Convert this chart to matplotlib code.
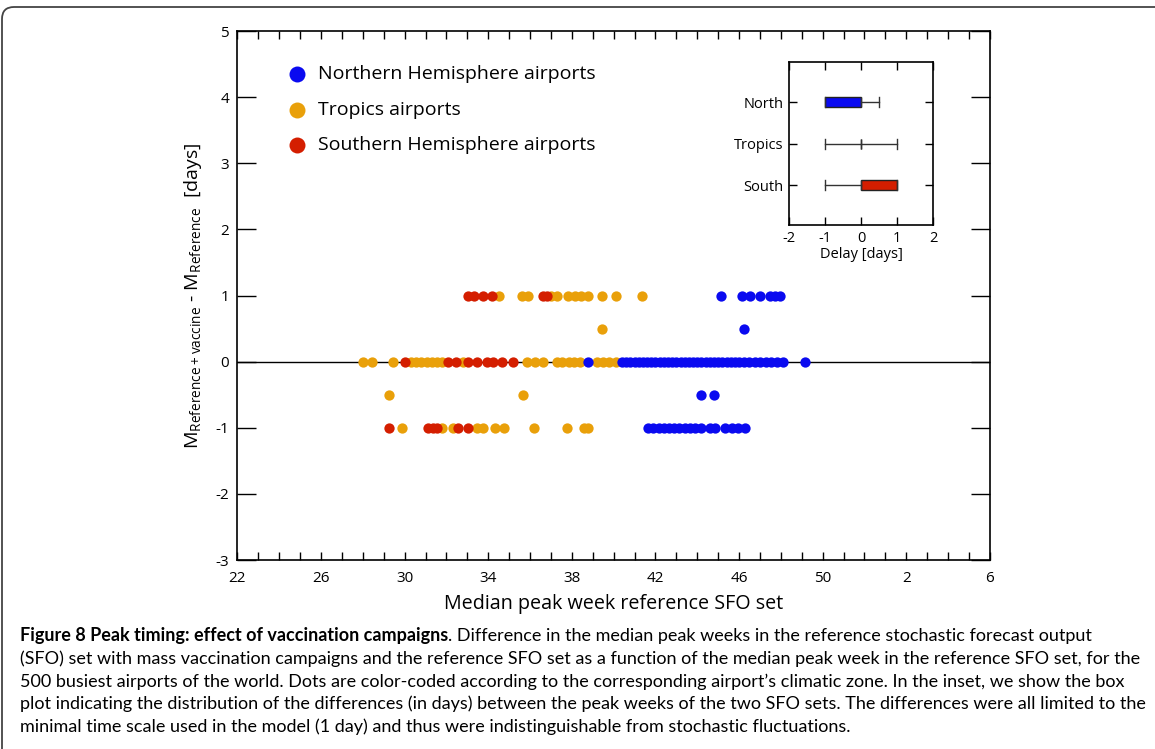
import matplotlib
matplotlib.use('Agg')
import matplotlib.pyplot as plt
from matplotlib.ticker import FuncFormatter
from matplotlib.patches import FancyBboxPatch
from matplotlib.transforms import IdentityTransform

plt.rcParams['font.family'] = ['Open Sans', 'DejaVu Sans']
plt.rcParams['mathtext.fontset'] = 'custom'
plt.rcParams['mathtext.rm'] = 'Open Sans'
plt.rcParams['axes.unicode_minus'] = False

# median peak week (weeks after 52 continue as 53, 54, ...) for each difference level
north = {
    1.0: [45.12, 46.12, 46.52, 47.0, 47.48, 47.72, 47.96],
    0.5: [46.23],
    0.0: [38.79, 40.38, 40.6, 40.8, 41.0, 41.2, 41.4, 41.6, 41.8, 42.0, 42.2, 42.4,
          42.6, 42.8, 43.0, 43.2, 43.4, 43.6, 43.8, 44.0, 44.2, 44.4, 44.6, 44.8,
          45.0, 45.2, 45.4, 45.6, 45.8, 46.0, 46.25, 46.5, 46.75, 47.0, 47.3,
          47.55, 47.8, 48.11, 49.15],
    -0.5: [44.16, 44.81],
    -1.0: [41.66, 41.9, 42.15, 42.4, 42.65, 42.9, 43.15, 43.4, 43.65, 43.89,
           44.2, 44.6, 44.85, 45.33, 45.65, 45.96, 46.28],
}
tropics = {
    1.0: [34.51, 35.6, 35.88, 37.0, 37.27, 37.83, 38.15, 38.42, 38.79, 39.42,
          40.11, 41.37],
    0.5: [39.43],
    0.0: [28.0, 28.44, 29.43, 30.3, 30.55, 30.8, 31.05, 31.3, 31.55, 31.8, 32.77,
          35.84, 36.23, 36.63, 37.27, 37.55, 37.85, 38.1, 38.39, 39.19, 39.5,
          39.8, 40.1],
    -0.5: [29.25, 35.68],
    -1.0: [29.86, 31.77, 32.33, 33.44, 33.76, 34.32, 34.75, 36.2, 37.78, 38.6,
           38.79],
}
south = {
    1.0: [33.01, 33.33, 33.76, 34.19, 36.6, 36.8],
    0.0: [30.01, 32.09, 32.45, 33.04, 33.44, 33.92, 34.24, 34.64, 35.17],
    -1.0: [29.26, 31.13, 31.37, 31.53, 32.57, 33.04],
}
week_ticks = [22, 26, 30, 34, 38, 42, 46, 50, 54, 58]

# inset box plot, delay in days
zones = ['North', 'Tropics', 'South']
box_q1 = [-1, 0, 0]
box_med = [0, 0, 0]
box_q3 = [0, 0, 1]
whisk_lo = [-1, -1, -1]
whisk_hi = [0.5, 1, 1]
box_colors = ['#0a0af0', 'white', '#d41e00']

c_north = '#0a0af0'
c_trop = '#e9a00a'
c_south = '#d41e00'


def points(d):
    xs, ys = [], []
    for dy, weeks in d.items():
        xs += weeks
        ys += [dy] * len(weeks)
    return xs, ys


fig = plt.figure(figsize=(11.55, 7.49), dpi=100)
ax = fig.add_axes([0.2056, 0.2523, 0.6514, 0.7063])

ax.axhline(0, color='black', lw=1.0, zorder=1)
for d, c, lab in [(tropics, c_trop, 'Tropics airports'),
                  (south, c_south, 'Southern Hemisphere airports'),
                  (north, c_north, 'Northern Hemisphere airports')]:
    xs, ys = points(d)
    ax.scatter(xs, ys, s=55, color=c, lw=0, zorder=3, label=lab)

ax.set_xlim(22, 58)
ax.set_ylim(-3, 5)
ax.set_xticks(week_ticks)
ax.set_xticks(range(22, 59), minor=True)
ax.set_yticks(range(-3, 6))
ax.xaxis.set_major_formatter(FuncFormatter(lambda v, p: '%d' % (v if v <= 52 else v - 52)))
ax.tick_params(axis='x', which='both', direction='in', top=True, length=6,
               width=1, labelsize=11, pad=8)
ax.tick_params(axis='y', which='major', direction='in', right=True, length=14,
               width=1, labelsize=11, pad=6)
for s in ax.spines.values():
    s.set_linewidth(1.2)

ax.set_xlabel('Median peak week reference SFO set', fontsize=14.2, labelpad=6)
ax.set_ylabel(r'M$_{\mathrm{Reference+vaccine}}$ - M$_{\mathrm{Reference}}$  [days]',
              fontsize=14, labelpad=8)

h, l = ax.get_legend_handles_labels()
order = [2, 0, 1]
leg = ax.legend([h[i] for i in order], [l[i] for i in order], loc='upper left',
                bbox_to_anchor=(0.043, 0.95), frameon=False, fontsize=14,
                markerscale=1.55, handletextpad=0.1, labelspacing=0.9,
                borderaxespad=0)

# inset
ins = fig.add_axes([0.6831, 0.6996, 0.1247, 0.218])
stats = []
for i in range(3):
    stats.append(dict(q1=box_q1[i], med=box_med[i], q3=box_q3[i],
                      whislo=whisk_lo[i], whishi=whisk_hi[i], fliers=[]))
pos = [3, 2, 1]
bp = ins.bxp(stats, positions=pos, orientation='horizontal', widths=0.24,
             capwidths=0.24, patch_artist=True, showfliers=False,
             boxprops=dict(lw=1.0, edgecolor='#222222'),
             whiskerprops=dict(lw=1.0, color='#333333'),
             capprops=dict(lw=1.0, color='#333333'),
             medianprops=dict(lw=1.0, color='#333333'))
for patch, c in zip(bp['boxes'], box_colors):
    patch.set_facecolor(c)
ins.set_xlim(-2, 2)
ins.set_ylim(0.05, 3.97)
ins.set_yticks(pos)
ins.set_yticklabels(zones)
ins.set_xticks([-2, -1, 0, 1, 2])
ins.tick_params(axis='both', direction='in', top=True, right=True, length=6,
                width=1, labelsize=10.5, pad=4)
ins.set_xlabel('Delay [days]', fontsize=10.5, labelpad=1)
for s in ins.spines.values():
    s.set_linewidth(1.2)

# caption
cap_x = 20 / 1155
line_y = [1 - 641 / 749, 1 - 664 / 749, 1 - 687 / 749, 1 - 709 / 749, 1 - 732 / 749]
cap_font = ['Lato', 'DejaVu Sans']
bold_txt = 'Figure 8 Peak timing: effect of vaccination campaigns'
rest_txt = '. Difference in the median peak weeks in the reference stochastic forecast output'
lines = [
    '(SFO) set with mass vaccination campaigns and the reference SFO set as a function of the median peak week in the reference SFO set, for the',
    '500 busiest airports of the world. Dots are color-coded according to the corresponding airport\u2019s climatic zone. In the inset, we show the box',
    'plot indicating the distribution of the differences (in days) between the peak weeks of the two SFO sets. The differences were all limited to the',
    'minimal time scale used in the model (1 day) and thus were indistinguishable from stochastic fluctuations.',
]

fs = 12.5
t1 = fig.text(cap_x, line_y[0], bold_txt, fontsize=fs, fontweight='bold',
              family=cap_font, va='baseline')
t2 = ax.annotate(rest_txt, xy=(1, line_y[0]), xycoords=(t1, 'figure fraction'),
                 fontsize=fs, family=cap_font, va='baseline', ha='left',
                 annotation_clip=False)
others = [fig.text(cap_x, yy, txt, fontsize=fs, family=cap_font, va='baseline')
          for txt, yy in zip(lines, line_y[1:])]

# shrink the caption so that its widest line fits in about 1130 px
r = fig.canvas.get_renderer()
widths = [t2.get_window_extent(r).x1 - t1.get_window_extent(r).x0]
widths += [t.get_window_extent(r).width for t in others]
k = 1130.0 / max(widths)
for t in [t1, t2] + others:
    t.set_fontsize(fs * k)

# outer frame
frame = FancyBboxPatch((2, -60), 1200, 742 + 60, boxstyle='round,pad=0,rounding_size=12',
                       transform=IdentityTransform(), fill=False, lw=1.3,
                       edgecolor='#444444')
fig.patches.append(frame)

fig.savefig('out.png', dpi=100)
